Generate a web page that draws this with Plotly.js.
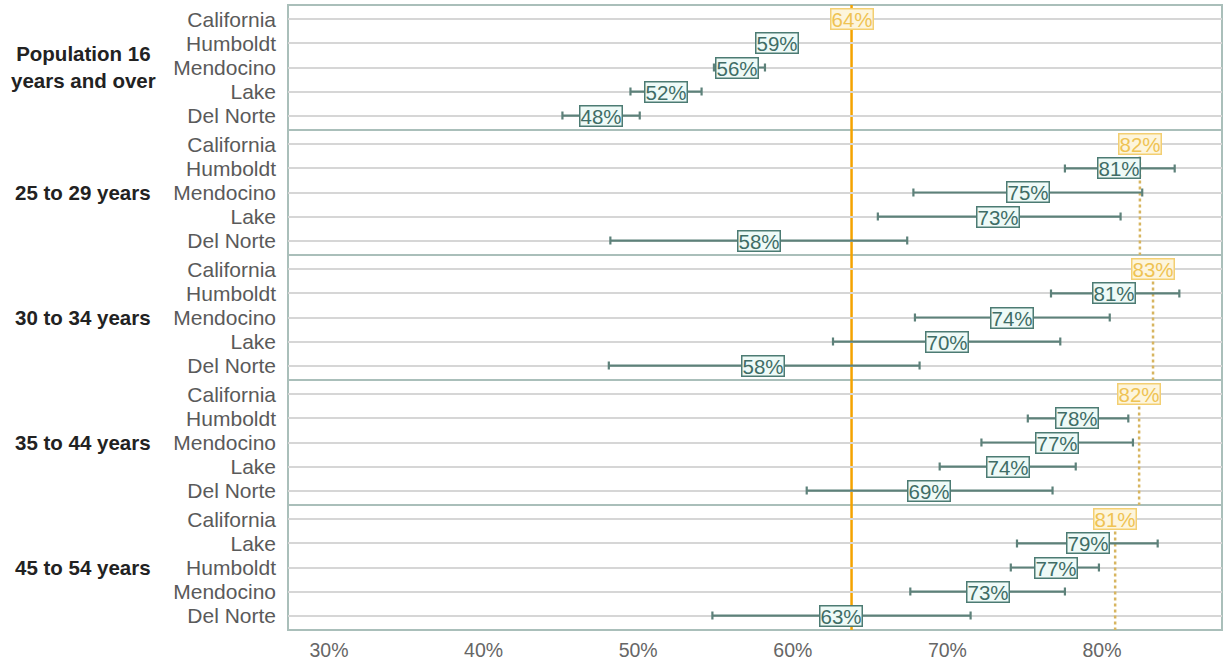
<!DOCTYPE html>
<html><head><meta charset="utf-8">
<script src="https://cdn.plot.ly/plotly-3.0.1.min.js"></script>
<style>body{margin:0;background:#fff}</style>
</head><body><div id="chart" style="width:1224px;height:660px"></div>
<script>
// Facet groups (age groups)
const groups = ["Population 16<br>years and over", "25 to 29 years", "30 to 34 years", "35 to 44 years", "45 to 54 years"];
// Row order within each facet
const places = [
  ["California", "Humboldt", "Mendocino", "Lake", "Del Norte"],
  ["California", "Humboldt", "Mendocino", "Lake", "Del Norte"],
  ["California", "Humboldt", "Mendocino", "Lake", "Del Norte"],
  ["California", "Humboldt", "Mendocino", "Lake", "Del Norte"],
  ["California", "Lake", "Humboldt", "Mendocino", "Del Norte"]
];
// Estimates (%), same order as places
const estimates = [
  [63.8, 59.0, 56.4, 51.8, 47.6],
  [82.45, 81.1, 75.2, 73.3, 57.8],
  [83.3, 80.8, 74.2, 70.0, 58.1],
  [82.4, 78.4, 77.1, 73.9, 68.8],
  [80.85, 79.1, 77.0, 72.6, 63.1]
];
// Lower / upper bounds of the margin of error (%)
const lower = [
  [null, 57.8, 54.9, 49.5, 45.1],
  [null, 77.6, 67.8, 65.5, 48.2],
  [null, 76.7, 67.9, 62.6, 48.1],
  [null, 75.2, 72.2, 69.5, 60.9],
  [null, 74.5, 74.1, 67.6, 54.8]
];
const upper = [
  [null, 60.2, 58.2, 54.1, 50.1],
  [null, 84.7, 82.6, 81.2, 67.4],
  [null, 85.0, 80.5, 77.3, 68.2],
  [null, 81.7, 82.0, 78.3, 76.8],
  [null, 83.6, 79.8, 77.6, 71.5]
];
const xTicks = [30, 40, 50, 60, 70, 80];
const xTickText = ["30%", "40%", "50%", "60%", "70%", "80%"];

const FONT = "Liberation Sans, Arial, Helvetica, sans-serif";
const teal = "#5d817a";
const n = groups.length;
const traces = [];
const annotations = [];
const shapes = [];
const layout = {
  width: 1224, height: 660,
  margin: {l: 288, r: 2, t: 5, b: 30},
  paper_bgcolor: "#fff", plot_bgcolor: "#fff",
  showlegend: false,
  font: {family: FONT},
  xaxis: {
    anchor: "y" + n, range: [27.35, 87.76], tickmode: "array",
    tickvals: xTicks, ticktext: xTickText,
    showgrid: false, zeroline: false, showline: false, ticks: "",
    tickfont: {size: 19.5, color: "#666"}, ticklabelstandoff: 6
  }
};

for (let i = 0; i < n; i++) {
  const yid = i === 0 ? "y" : "y" + (i + 1);
  const key = i === 0 ? "yaxis" : "yaxis" + (i + 1);
  const top = 1 - i / n, bot = 1 - (i + 1) / n;
  layout[key] = {
    domain: [bot, top], anchor: "x", type: "category",
    categoryorder: "array", categoryarray: places[i], range: [4.6, -0.6],
    tickmode: "array", tickvals: places[i], ticktext: places[i],
    showgrid: true, gridcolor: "#d6d6d6", gridwidth: 2,
    zeroline: false, showline: false, ticks: "",
    tickfont: {size: 21, color: "#5a5a5a"}, ticklabelstandoff: 11
  };
  // counties with error bars (skip the state row)
  const xs = [], ys = [], plus = [], minus = [];
  for (let j = 0; j < places[i].length; j++) {
    if (lower[i][j] === null) continue;
    xs.push(estimates[i][j]); ys.push(places[i][j]);
    plus.push(upper[i][j] - estimates[i][j]);
    minus.push(estimates[i][j] - lower[i][j]);
  }
  traces.push({
    type: "scatter", mode: "markers", x: xs, y: ys, xaxis: "x", yaxis: yid,
    marker: {size: 2, color: teal, opacity: 0},
    error_x: {type: "data", symmetric: false, array: plus, arrayminus: minus,
              color: teal, thickness: 2.2, width: 4},
    hoverinfo: "x+y"
  });
  // value labels
  for (let j = 0; j < places[i].length; j++) {
    const isState = places[i][j] === "California";
    annotations.push({
      x: estimates[i][j], y: places[i][j], xref: "x", yref: yid,
      text: Math.round(estimates[i][j]) + "%", showarrow: false,
      font: {size: 20.5, color: isState ? "#efc353" : "#3f6d66", family: FONT},
      bgcolor: isState ? "#fdf5dc" : "#eefaf7",
      bordercolor: isState ? "#f3cf72" : "#4c7b73",
      borderwidth: 1.5, borderpad: 0, height: 19
    });
  }
  // facet label
  annotations.push({
    x: -0.219, xref: "paper", y: (top + bot) / 2, yref: "paper",
    xanchor: "center", yanchor: "middle", showarrow: false, align: "center",
    text: "<b>" + groups[i] + "</b>",
    font: {size: 20.5, color: "#222", family: FONT}
  });
  // state reference line within the panel (dotted) for age groups
  if (i > 0) {
    shapes.push({
      type: "line", xref: "x", yref: yid, x0: estimates[i][0], x1: estimates[i][0],
      y0: 0, y1: 4.6, layer: "between",
      line: {color: "#d7b560", width: 2.5, dash: "dot"}
    });
  }
  // panel border
  shapes.push({
    type: "rect", xref: "paper", yref: yid + " domain", x0: 0, x1: 1, y0: 0, y1: 1,
    layer: "between", line: {color: "#aabfba", width: 2}
  });
}
// overall state line for population 16+ across all panels
shapes.push({
  type: "line", xref: "x", yref: "paper", x0: estimates[0][0], x1: estimates[0][0],
  y0: 0, y1: 1, layer: "between", line: {color: "#f4a300", width: 2.5}
});
layout.annotations = annotations;
layout.shapes = shapes;

Plotly.newPlot("chart", traces, layout, {displayModeBar: false, staticPlot: true});
</script>
</body></html>
